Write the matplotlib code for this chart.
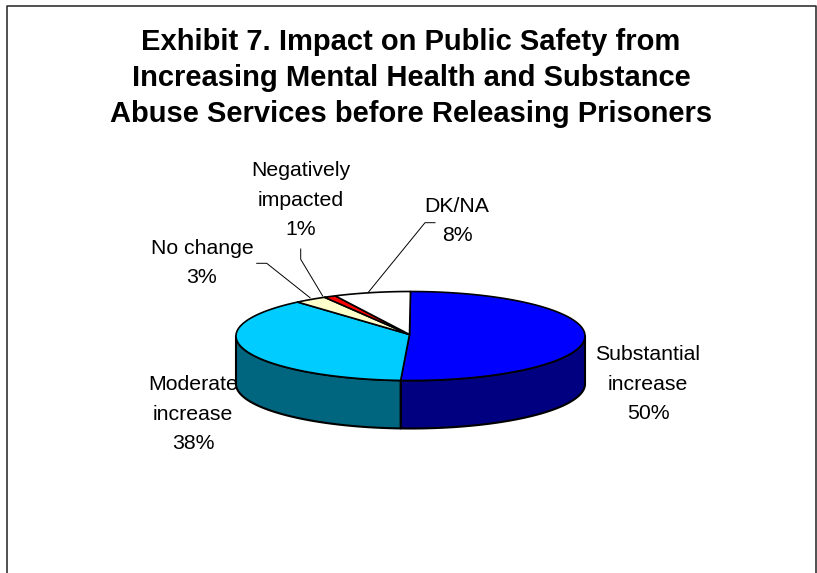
import numpy as np
import matplotlib
matplotlib.use("Agg")
import matplotlib.pyplot as plt

plt.rcParams["font.family"] = ["Liberation Sans", "DejaVu Sans"]

W, H = 817, 573

TITLE = ("Exhibit 7. Impact on Public Safety from\n"
         "Increasing Mental Health and Substance\n"
         "Abuse Services before Releasing Prisoners")

categories = ["Substantial\nincrease", "Moderate\nincrease", "No change",
              "Negatively\nimpacted", "DK/NA"]
percents = [50, 38, 3, 1, 8]
shares = [50.9, 37.9, 3.0, 1.1, 7.1]
top_colors = ["#0000FF", "#00CCFF", "#FFFFCC", "#FF0000", "#FFFFFF"]
side_colors = ["#000080", "#006680", "#808066", "#800000", "#808080"]

CX, CY = 410.5, 336
RX, RY = 174.5, 44.5
DEPTH = 48
APEX = (409.5, 334.5)

label_pos = [(648, 383), (193, 413), (202, 262), (301, 199), (457, 220)]
leaders = [
    None,
    None,
    ([256.7, 266.7, 310], [263.3, 263.3, 297.7]),
    ([300.7, 300.7, 322.7], [249, 259.3, 296]),
    ([435, 425, 368], [222.7, 222.7, 292.7]),
]


def ellipse(t, dy=0):
    # t is clockwise from the top, in radians
    return CX + RX * np.sin(t), CY + dy - RY * np.cos(t)


fig = plt.figure(figsize=(W / 100, H / 100), dpi=100)
ax = fig.add_axes([0, 0, 1, 1])
ax.set_xlim(0, W)
ax.set_ylim(H, 0)
ax.axis("off")

edges = np.cumsum([0] + shares) / sum(shares) * 2 * np.pi

# side wall, only the front half of the rim can be seen
for i in range(len(shares)):
    a = max(edges[i], np.pi / 2)
    b = min(edges[i + 1], 3 * np.pi / 2)
    if b <= a:
        continue
    t = np.linspace(a, b, 120)
    x1, y1 = ellipse(t)
    x2, y2 = ellipse(t[::-1], DEPTH)
    ax.fill(np.r_[x1, x2], np.r_[y1, y2], facecolor=side_colors[i],
            edgecolor="black", linewidth=1.5, joinstyle="round", zorder=2)

# top face, thinner outline so the 1% slice still shows its red
for i in range(len(shares)):
    t = np.linspace(edges[i], edges[i + 1], 120)
    x, y = ellipse(t)
    ax.fill(np.r_[APEX[0], x], np.r_[APEX[1], y], facecolor=top_colors[i],
            edgecolor="black", linewidth=1.2, joinstyle="round", zorder=3)

for i, name in enumerate(categories):
    ax.text(label_pos[i][0], label_pos[i][1] + 1,
            "%s\n%d%%" % (name, percents[i]),
            fontsize=15.3, color="black", ha="center", va="center",
            linespacing=1.68, zorder=5)
    if leaders[i] is not None:
        ax.plot(leaders[i][0], leaders[i][1], color="black", linewidth=0.7,
                zorder=4)

ax.text(411, 78, TITLE, fontsize=21, fontweight="bold", ha="center",
        va="center", linespacing=1.36, color="black")

# outer frame, open at the bottom
ax.plot([7, 7, 815.7, 815.7], [H, 5.7, 5.7, H], color="#222222",
        linewidth=1.1, zorder=1)

fig.savefig("out.png", dpi=100)
